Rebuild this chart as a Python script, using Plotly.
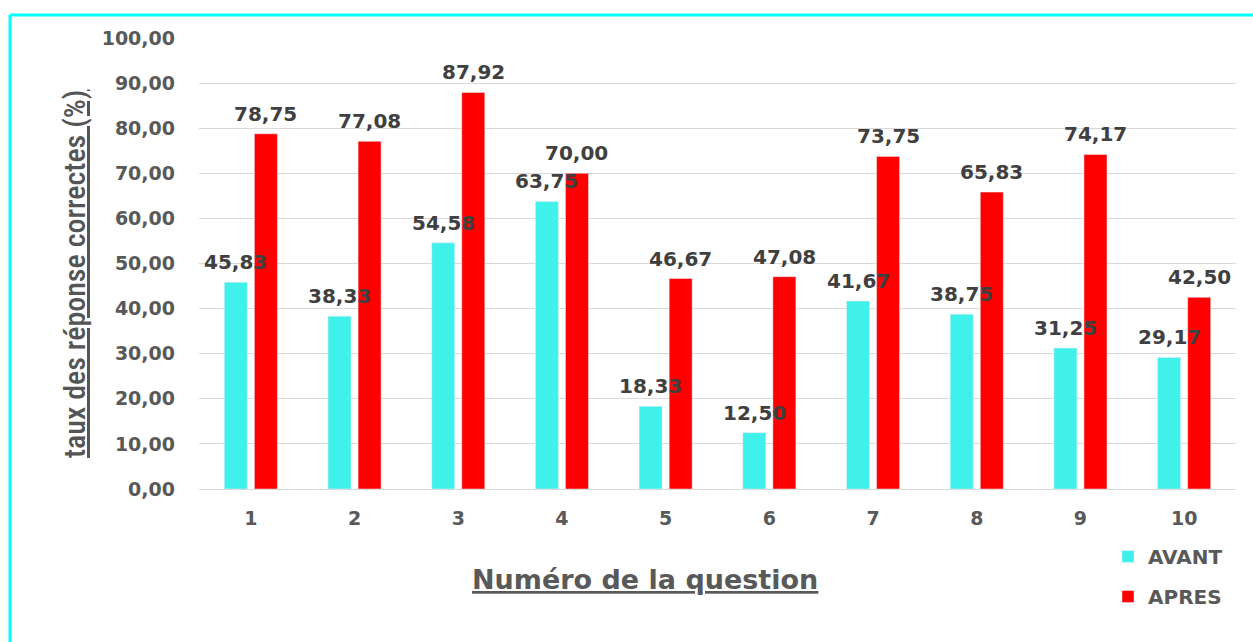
import plotly.graph_objects as go

questions = [1, 2, 3, 4, 5, 6, 7, 8, 9, 10]
avant = [45.83, 38.33, 54.58, 63.75, 18.33, 12.50, 41.67, 38.75, 31.25, 29.17]
apres = [78.75, 77.08, 87.92, 70.00, 46.67, 47.08, 73.75, 65.83, 74.17, 42.50]
y_ticks = [0, 10, 20, 30, 40, 50, 60, 70, 80, 90, 100]

CYAN = "#40F0EA"
RED = "#FF0000"
TICK_GRAY = "#595959"
LABEL_GRAY = "#404040"
FONT = "DejaVu Sans"

W, H = 1253, 642
ML, MR, MT, MB = 199, 17, 38, 153
PW, PH = W - ML - MR, H - MT - MB

BARGAP = 0.42
half_slot = (1 - BARGAP) / 4

fig = go.Figure()
fig.add_trace(go.Bar(x=questions, y=avant, name="AVANT", marker_color=CYAN,
                     legendgroup="a"))
fig.add_trace(go.Bar(x=questions, y=apres, name="APRES", marker_color=RED,
                     legendgroup="b"))

label_font = dict(family=FONT, size=20, color=LABEL_GRAY, weight="bold")
annotations = []
for q, v in zip(questions, avant):
    annotations.append(dict(x=q - half_slot, y=v, xref="x", yref="y",
                            text=f"{v:.2f}".replace(".", ","), showarrow=False,
                            yanchor="bottom", yshift=6, font=label_font))
for q, v in zip(questions, apres):
    annotations.append(dict(x=q + half_slot, y=v, xref="x", yref="y",
                            text=f"{v:.2f}".replace(".", ","), showarrow=False,
                            yanchor="bottom", yshift=6, font=label_font))


def px_x(p):
    return (p - ML) / PW


def px_y(p):
    return (MT + PH - p) / PH


annotations.append(dict(x=px_x(74), y=px_y(274), xref="paper", yref="paper",
                        text="<u>taux des réponse correctes (%)</u>", textangle=-90,
                        showarrow=False, xanchor="center", yanchor="middle",
                        font=dict(family="Roboto Condensed, Liberation Sans Narrow, Open Sans",
                                  size=30, color="#555555", weight=500)))
annotations.append(dict(x=px_x(645), y=px_y(579), xref="paper", yref="paper",
                        text="<u>Numéro de la question</u>",
                        showarrow=False, xanchor="center", yanchor="middle",
                        font=dict(family=FONT, size=27, color=TICK_GRAY, weight="bold")))

shapes = [
    dict(type="line", xref="paper", yref="paper", x0=px_x(10), x1=px_x(1260),
         y0=px_y(15), y1=px_y(15), line=dict(color="#00FFFF", width=3)),
    dict(type="line", xref="paper", yref="paper", x0=px_x(10), x1=px_x(10),
         y0=px_y(15), y1=px_y(650), line=dict(color="#00FFFF", width=3)),
]

fig.update_layout(
    width=W, height=H,
    margin=dict(l=ML, r=MR, t=MT, b=MB),
    paper_bgcolor="white", plot_bgcolor="white",
    barmode="group", bargap=BARGAP, bargroupgap=0.235,
    separators=",.",
    showlegend=True,
    legend=dict(x=px_x(1108), y=px_y(537), xanchor="left", yanchor="top",
                orientation="v", tracegroupgap=11, traceorder="grouped",
                font=dict(family=FONT, size=20, color=TICK_GRAY, weight="bold"),
                bgcolor="rgba(0,0,0,0)"),
    annotations=annotations,
    shapes=shapes,
)
fig.update_xaxes(range=[0.5, 10.5], tickvals=questions, ticktext=[str(q) for q in questions],
                 showgrid=False, showline=False, zeroline=False, ticks="",
                 ticklabelstandoff=16,
                 tickfont=dict(family=FONT, size=19, color=TICK_GRAY, weight="bold"))
fig.update_yaxes(range=[0, 100], tickvals=y_ticks, tickformat=".2f",
                 showgrid=True, gridcolor="#D9D9D9", gridwidth=1,
                 zeroline=True, zerolinecolor="#D9D9D9", zerolinewidth=1,
                 showline=False, ticks="", ticklabelstandoff=23,
                 tickfont=dict(family=FONT, size=19, color=TICK_GRAY, weight="bold"))

fig.write_html("out.html")
